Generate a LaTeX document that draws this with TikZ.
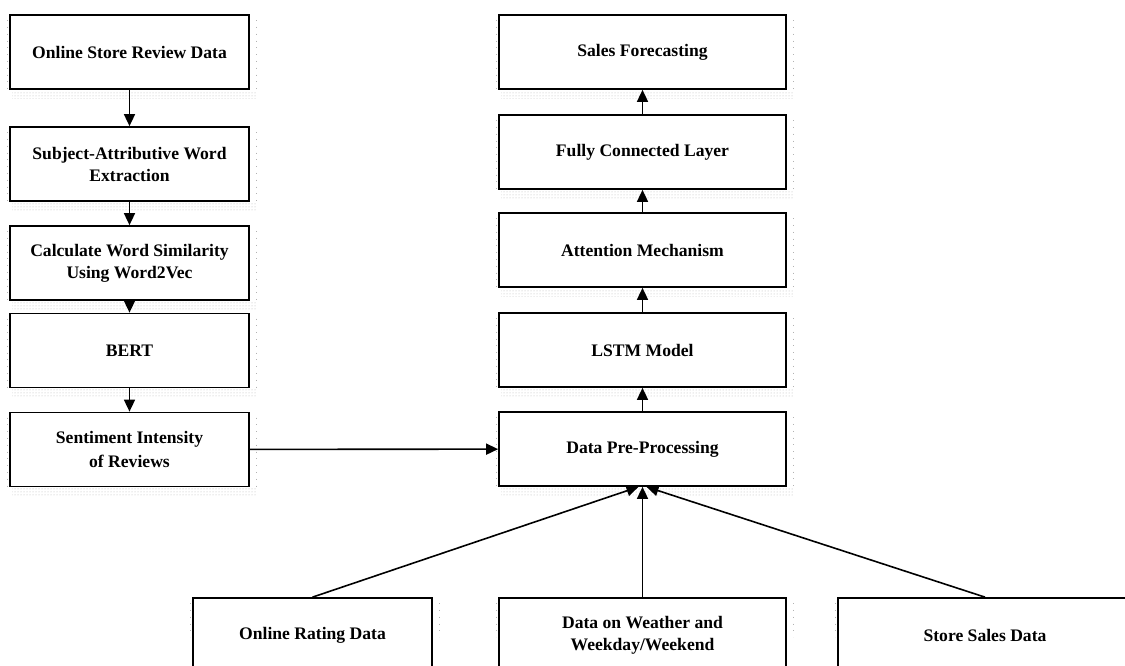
\documentclass[tikz,border=0pt]{standalone}
\usepackage{fontspec}
\setmainfont{Liberation Serif}
\usetikzlibrary{arrows.meta,patterns}
\begin{document}
\begin{tikzpicture}[x=1pt,y=1pt,
  box/.style={draw, line width=1.7pt, rectangle, minimum height=74pt, align=center,
    font=\fontsize{17.6}{22}\selectfont\bfseries, inner sep=0pt, fill=white},
  lbox/.style={box, minimum width=239pt},
  rbox/.style={box, minimum width=287pt},
  arr/.style={line width=1.6pt, -{Triangle[length=12pt,width=11pt]}},
  shadowband/.style={pattern=dots, pattern color=gray!55},
  shadowside/.style={gray!60, line width=0.6pt, dash pattern=on 0.8pt off 6pt}
]
\clip (0,0) rectangle (1125,-666);
\fill[white] (0,0) rectangle (1125,-666);

% left column
\node[lbox] (rev)  at (129.5,-52)  {Online Store Review Data};
\node[lbox] (sub)  at (129.5,-164) {Subject-Attributive Word\\Extraction};
\node[lbox] (calc) at (129.5,-263) {Calculate Word Similarity\\Using Word2Vec};
\node[lbox] (bert) at (129.5,-350.5) {BERT};
\node[lbox] (sent) at (129.5,-449.5) {Sentiment Intensity\\[2pt]of Reviews};

% right column
\node[rbox] (sales) at (642.5,-52)  {Sales Forecasting};
\node[rbox] (fc)    at (642.5,-152) {Fully Connected Layer};
\node[rbox] (att)   at (642.5,-250) {Attention Mechanism};
\node[rbox] (lstm)  at (642.5,-350) {LSTM Model};
\node[rbox] (pre)   at (642.5,-449) {Data Pre-Processing};

% bottom row
\node[lbox] (rating)  at (312.5,-635) {Online Rating Data};
\node[rbox] (weather) at (642.5,-635) {Data on Weather and\\Weekday/Weekend};
\node[box, minimum width=294pt] (store) at (985,-635) {Store Sales Data};

% shadows
\foreach \n in {rev,sub,calc,bert,sent,sales,fc,att,lstm,pre}{
  \fill[shadowband] ([xshift=3pt,yshift=-1.5pt]\n.south west) rectangle ([xshift=6pt,yshift=-9pt]\n.south east);
  \draw[shadowside] ([xshift=6pt,yshift=-6pt]\n.north east) -- ([xshift=6pt]\n.south east);
  \draw[shadowside] ([xshift=-2pt,yshift=-6pt]\n.north west) -- ([xshift=-2pt]\n.south west);
}
\foreach \n in {rating,weather,store}{
  \draw[shadowside] ([xshift=6pt,yshift=-6pt]\n.north east) -- ([xshift=6pt,yshift=-40pt]\n.north east);
  \draw[shadowside] ([xshift=-2pt,yshift=-6pt]\n.north west) -- ([xshift=-2pt,yshift=-40pt]\n.north west);
}

% connectors
\draw[arr] (rev) -- (sub);
\draw[arr] (sub) -- (calc);
\draw[arr] (calc) -- (bert);
\draw[arr] (bert) -- (sent);
\draw[arr] (sent) -- (pre);
\draw[arr] (pre) -- (lstm);
\draw[arr] (lstm) -- (att);
\draw[arr] (att) -- (fc);
\draw[arr] (fc) -- (sales);
\draw[arr] (rating.north) -- ([xshift=-4pt]pre.south);
\draw[arr] (weather.north) -- (pre.south);
\draw[arr] (store.north) -- ([xshift=4pt]pre.south);
\end{tikzpicture}
\end{document}
